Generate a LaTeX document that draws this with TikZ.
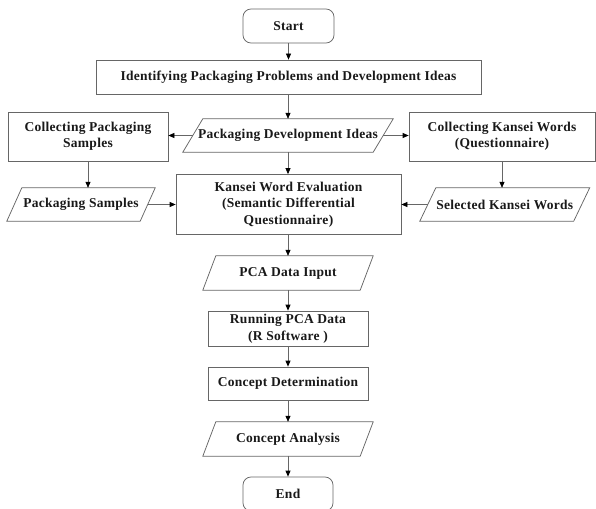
\documentclass[tikz,border=0pt]{standalone}
\usepackage{fontspec}
\setmainfont[LetterSpace=2]{Liberation Serif}
\usetikzlibrary{arrows.meta}
\newcommand{\mypara}[7]{%
  \node[paratext, minimum width=#4, minimum height=#5] (#1) at (#2,#3) {#7};
  \draw[lineclr] ([xshift=#6]#1.north west) -- ([xshift=#6]#1.north east)
    -- ([xshift=-#6]#1.south east) -- ([xshift=-#6]#1.south west) -- cycle;}
\begin{document}
\begin{tikzpicture}[x=1pt,y=-1pt,
  lineclr/.style={draw=black!60, line width=0.75pt},
  txt/.style={font=\fontsize{13.5}{16.5}\selectfont\bfseries, align=center, inner sep=0pt, text=black!90},
  boxnode/.style={txt, lineclr, rectangle},
  roundnode/.style={txt, lineclr, rectangle, rounded corners=8pt},
  paratext/.style={txt, rectangle},
  arr/.style={draw=black!60, line width=0.75pt, -{Triangle[length=6pt,width=5pt,color=black]}}
]
\useasboundingbox (0,0) rectangle (596,508);
\clip (0,0) rectangle (596,508);
\node[roundnode, minimum width=91pt, minimum height=34pt] (start) at (288.5,26) {Start};
\node[boxnode, minimum width=385pt, minimum height=34pt] (ident) at (288.5,77) {Identifying Packaging Problems and Development Ideas};
\node[boxnode, minimum width=160pt, minimum height=49pt] (cpack) at (88,136.5) {Collecting Packaging\\Samples};
\mypara{dev}{288}{135.5}{190pt}{33pt}{10pt}{Packaging Development Ideas}
\node[boxnode, minimum width=186pt, minimum height=49pt] (ckan) at (502,136.5) {Collecting Kansei Words\\(Questionnaire)};
\mypara{psamp}{81}{204.5}{133pt}{33pt}{7.5pt}{Packaging Samples}
\node[boxnode, minimum width=225pt, minimum height=60pt] (eval) at (288.5,204.5) {Kansei Word Evaluation\\(Semantic Differential\\Questionnaire)};
\mypara{sel}{504.75}{204.5}{153.5pt}{33pt}{8pt}{Selected Kansei Words}
\mypara{pca}{288}{273}{157pt}{34pt}{6.5pt}{PCA Data Input}
\node[boxnode, minimum width=160pt, minimum height=35pt] (run) at (288,328.5) {Running PCA Data\\(R Software )};
\node[boxnode, minimum width=160pt, minimum height=33pt] (det) at (288,383.5) {Concept Determination};
\mypara{ana}{288}{439}{157pt}{34pt}{6.5pt}{Concept Analysis}
\node[roundnode, minimum width=90pt, minimum height=34pt] (end) at (288,494) {End};
\draw[arr] (start) -- (ident);
\draw[arr] (ident.south -| dev.north) -- (dev.north);
\draw[arr] (dev.west) -- (cpack.east |- dev.west);
\draw[arr] (dev.east) -- (ckan.west |- dev.east);
\draw[arr] (dev.south) -- (dev.south |- eval.north);
\draw[arr] (cpack.south) -- (cpack.south |- psamp.north);
\draw[arr] (ckan.south) -- (ckan.south |- sel.north);
\draw[arr] (psamp.east) -- (eval.west |- psamp.east);
\draw[arr] (sel.west) -- (eval.east |- sel.west);
\draw[arr] (eval.south -| pca.north) -- (pca.north);
\draw[arr] (pca) -- (run);
\draw[arr] (run) -- (det);
\draw[arr] (det) -- (ana);
\draw[arr] (ana) -- (end);
\end{tikzpicture}
\end{document}
